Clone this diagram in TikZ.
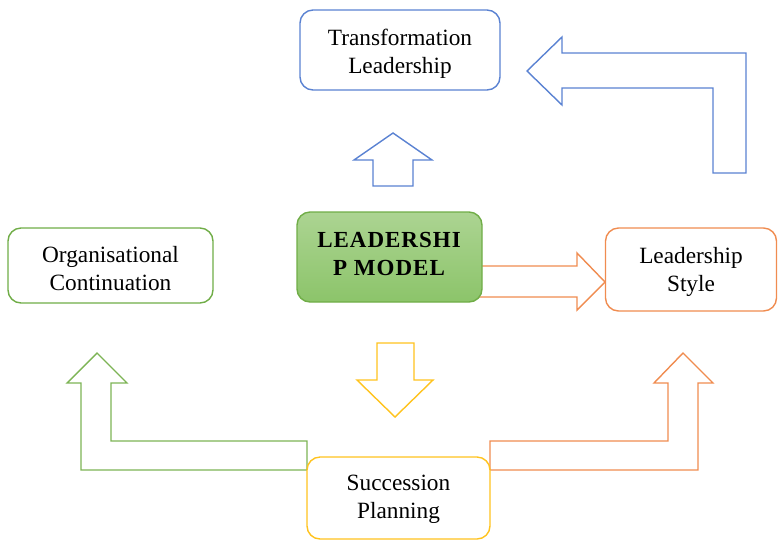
\documentclass[tikz,border=0pt]{standalone}
\usepackage{fontspec}
\setmainfont{Liberation Serif}
\definecolor{cblue}{RGB}{90,130,210}
\definecolor{cgreen}{RGB}{125,180,85}
\definecolor{cgreenB}{RGB}{112,173,71}
\definecolor{corange}{RGB}{240,140,80}
\definecolor{cyellow}{RGB}{255,195,30}
\definecolor{mtop}{RGB}{172,212,146}
\definecolor{mbot}{RGB}{140,196,106}
\begin{document}
\begin{tikzpicture}[x=1pt,y=-1pt,
  box/.style={draw, rounded corners=13pt, line width=1.4pt, fill=white, inner sep=0pt},
  txt/.style={align=center, inner sep=0pt, font=\rmfamily\fontsize{23.3}{28}\selectfont},
  blk/.style={line width=1.4pt, line join=miter, fill=white}]
\useasboundingbox (0,0) rectangle (778,539);

% block arrows
\draw[blk, draw=cblue] (373,186) -- (373,160) -- (354,160) -- (393,133) -- (432,160) -- (413,160) -- (413,186) -- cycle;
\draw[blk, draw=cblue] (746,173) -- (746,53) -- (562,53) -- (562,37) -- (527,71) -- (562,105) -- (562,88) -- (713,88) -- (713,173) -- cycle;
\draw[blk, draw=cyellow] (377,343) -- (414,343) -- (414,380) -- (433,380) -- (395,417) -- (357,380) -- (377,380) -- cycle;
\draw[blk, draw=corange] (470,266) -- (577,266) -- (577,253) -- (605,282) -- (577,310) -- (577,297) -- (470,297);
\draw[blk, draw=cgreen] (307,470) -- (81,470) -- (81,383) -- (67,383) -- (97,353) -- (127,383) -- (111,383) -- (111,441) -- (307,441) -- cycle;
\draw[blk, draw=corange] (490,441) -- (668,441) -- (668,383) -- (654,383) -- (683,353) -- (713,383) -- (698,383) -- (698,470) -- (490,470) -- cycle;

% boxes
\node[box, draw=cblue, minimum width=200pt, minimum height=80pt] (trans) at (400,50) {};
\node[box, draw=cgreenB, top color=mtop, bottom color=mbot, minimum width=185pt, minimum height=90pt] (model) at (389.5,257) {};
\node[box, draw=cgreenB, minimum width=205pt, minimum height=75pt] (org) at (110.5,265.5) {};
\node[box, draw=corange, minimum width=171pt, minimum height=83pt] (style) at (691,269.5) {};
\node[box, draw=cyellow, minimum width=183pt, minimum height=82pt] (succ) at (398.5,498) {};

% texts
\node[txt] (transT) at (400,54) {Transformation\\Leadership};
\node[txt, font=\rmfamily\fontsize{23}{28}\selectfont\bfseries] (modelT) at (389,254)
  {L\kern1pt E\kern1pt A\kern1pt D\kern1pt E\kern1pt R\kern1pt S\kern1pt H\kern1pt I\\P\kern1pt\ M\kern1pt O\kern1pt D\kern1pt E\kern1pt L};
\node[txt] (orgT) at (110.5,269) {Organisational\\Continuation};
\node[txt] (styleT) at (691,271.5) {Leadership\\Style};
\node[txt] (succT) at (398.5,499.5) {Succession\\Planning};
\end{tikzpicture}
\end{document}
